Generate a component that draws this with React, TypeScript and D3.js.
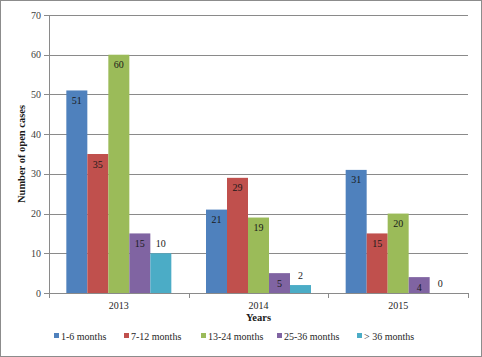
import React from "react";
import * as d3 from "d3";

const years = ["2013", "2014", "2015"];
const seriesNames = ["1-6 months", "7-12 months", "13-24 months", "25-36 months", "> 36 months"];
const s1 = [51, 21, 31];
const s2 = [35, 29, 15];
const s3 = [60, 19, 20];
const s4 = [15, 5, 4];
const s5 = [10, 2, 0];
const seriesValues = [s1, s2, s3, s4, s5];
const colors = ["#4F81BD", "#C0504D", "#9BBB59", "#8064A2", "#4BACC6"];
const yTicks = [0, 10, 20, 30, 40, 50, 60, 70];
const legendX = [54, 124, 201, 277, 357];

const F = "Liberation Serif";

function T(props: any) {
  const { children, style, ...rest } = props;
  return <text {...rest} fontFamily={F} style={{ fontFamily: F, ...(style || {}) }}>{children}</text>;
}

export default function App() {
  const W = 482, H = 357;
  const left = 49, right = 468, top = 15, bottom = 293;
  const x = d3.scaleBand().domain(years).range([left, right]).paddingInner(0).paddingOuter(0);
  const y = d3.scaleLinear().domain([0, 70]).range([bottom, top]);
  const barW = 21;
  const fs = 10;
  return (
    <svg width={W} height={H} style={{ display: "block", position: "absolute", left: 0, top: 0 }}>
      <rect x={0.5} y={0.5} width={W - 1} height={H - 1} fill="#fff" stroke="#8c8c8c" />
      {yTicks.filter(t => t > 0).map(t => (
        <line key={t} x1={left} x2={right} y1={Math.round(y(t)) + 0.5} y2={Math.round(y(t)) + 0.5} stroke="#8a8a8a" strokeWidth={1} />
      ))}
      {years.map((yr, i) => {
        const cx = x(yr)! + x.bandwidth() / 2;
        const start = cx - (barW * seriesValues.length) / 2;
        return seriesValues.map((vals, s) => {
          const v = vals[i];
          const bx = start + s * barW;
          const by = y(v);
          const inside = s < 4;
          return (
            <g key={yr + s}>
              {v > 0 && <rect x={bx} y={by} width={barW} height={bottom - by} fill={colors[s]} />}
              <T x={bx + barW / 2} y={inside ? by + 13.5 : by - 6} textAnchor="middle" fontSize={fs} fill="#1a1a1a">{v}</T>
            </g>
          );
        });
      })}
      <line x1={left + 0.5} x2={left + 0.5} y1={top} y2={bottom} stroke="#8a8a8a" />
      <line x1={left} x2={right} y1={bottom + 0.5} y2={bottom + 0.5} stroke="#8a8a8a" />
      {yTicks.map(t => (
        <g key={t}>
          <line x1={left - 5} x2={left} y1={Math.round(y(t)) + 0.5} y2={Math.round(y(t)) + 0.5} stroke="#8a8a8a" />
          <T x={left - 8} y={y(t) + 3.5} textAnchor="end" fontSize={fs} fill="#404040">{t}</T>
        </g>
      ))}
      {[...years.map(yr => x(yr)!), right].map((bx, i) => (
        <line key={i} x1={Math.round(bx) + 0.5} x2={Math.round(bx) + 0.5} y1={bottom} y2={bottom + 5} stroke="#8a8a8a" />
      ))}
      {years.map(yr => (
        <T key={yr} x={x(yr)! + x.bandwidth() / 2} y={bottom + 16} textAnchor="middle" fontSize={fs} fill="#262626">{yr}</T>
      ))}
      <T x={(left + right) / 2} y={321} textAnchor="middle" fontSize={10.5} fontWeight="bold" fill="#1a1a1a">Years</T>
      <T transform={`translate(25, ${(top + bottom) / 2}) rotate(-90)`} textAnchor="middle" fontSize={10.5} fontWeight="bold" fill="#1a1a1a">Number of open cases</T>
      {seriesNames.map((n, s) => (
        <g key={n}>
          <rect x={legendX[s]} y={333} width={5} height={5} fill={colors[s]} />
          <T x={legendX[s] + 7} y={339.5} fontSize={fs} fill="#262626">{n}</T>
        </g>
      ))}
    </svg>
  );
}
